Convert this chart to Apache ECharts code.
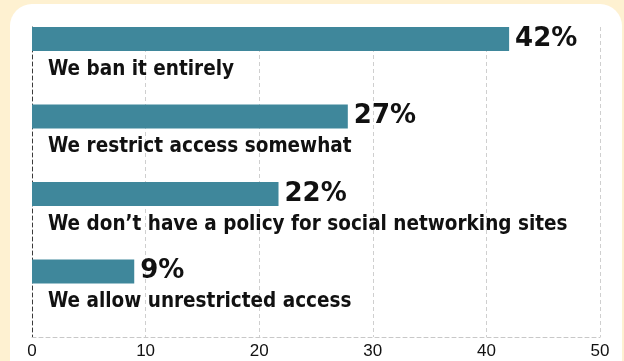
<!DOCTYPE html>
<html>
<head>
<meta charset="utf-8">
<script src="https://cdn.jsdelivr.net/npm/echarts@6/dist/echarts.min.js"></script>
<style>
  html, body { margin: 0; padding: 0; background: #fef1d1; }
  #chart { width: 624px; height: 361px; }
</style>
</head>
<body>
<div id="chart"></div>
<script>
// survey answers, top to bottom
const categories = [
  'We ban it entirely',
  'We restrict access somewhat',
  'We don\u2019t have a policy for social networking sites',
  'We allow unrestricted access'
]
const values = [42, 27.8, 21.7, 9]
const pctLabels = ['42%', '27%', '22%', '9%']
const ticks = [0, 10, 20, 30, 40, 50]

const chart = echarts.init(document.getElementById('chart'))

chart.setOption({
  backgroundColor: '#fef1d1',
  animation: false,
  graphic: [{
    type: 'rect',
    z: -10,
    shape: { x: 10, y: 4, width: 612, height: 380, r: 22 },
    style: { fill: '#ffffff' }
  }],
  grid: { left: 32, right: 24, top: 27, bottom: 24 },
  xAxis: {
    type: 'value',
    min: ticks[0],
    max: ticks[ticks.length - 1],
    interval: 10,
    axisLine: { show: true, lineStyle: { color: '#c8c8c8', type: [4, 3], width: 1 } },
    axisTick: { show: false },
    axisLabel: {
      color: '#111',
      fontFamily: 'Liberation Sans',
      fontSize: 17,
      margin: 6,
      showMinLabel: true,
      showMaxLabel: true
    },
    splitLine: { show: true, lineStyle: { color: '#cfcfcf', type: [4, 3], width: 1 } }
  },
  yAxis: {
    type: 'category',
    inverse: true,
    data: categories,
    axisLine: { show: true, lineStyle: { color: '#3a3a3a', type: [4, 3], width: 1 } },
    axisTick: { show: false },
    axisLabel: { show: false },
    splitLine: { show: false }
  },
  series: [
    {
      type: 'bar',
      data: values,
      barWidth: 24,
      barGap: 0,
      itemStyle: { color: '#3f879b' },
      label: {
        show: true,
        position: 'right',
        distance: 6,
        formatter: p => pctLabels[p.dataIndex],
        color: '#111',
        fontFamily: 'DejaVu Sans',
        fontWeight: 'bold',
        fontSize: 26
      }
    },
    {
      // spacer bar underneath each real bar, carries the answer text
      type: 'bar',
      data: values,
      barWidth: 53.5,
      barGap: 0,
      itemStyle: { color: 'rgba(0,0,0,0)' },
      silent: true,
      label: {
        show: true,
        position: [16, 8],
        formatter: p => categories[p.dataIndex],
        color: '#111',
        fontFamily: '"DejaVu Sans Condensed", "DejaVu Sans", sans-serif',
        fontWeight: 'bold',
        fontSize: 20.5
      }
    }
  ]
})
</script>
</body>
</html>
